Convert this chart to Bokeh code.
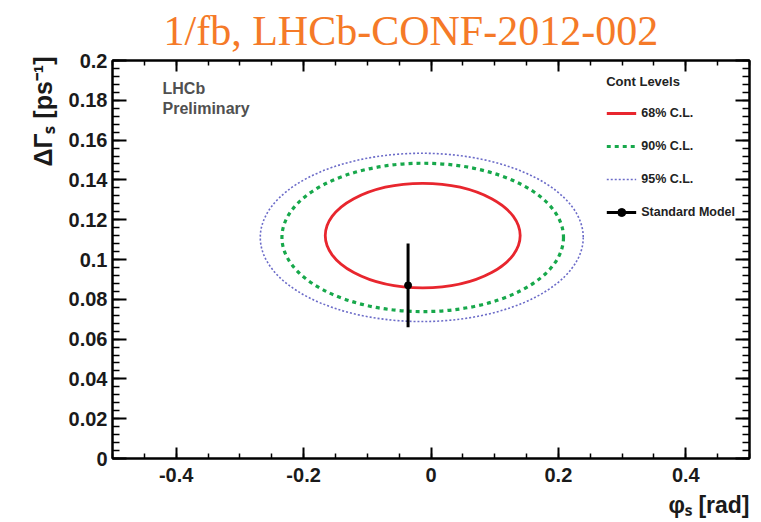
import numpy as np
from bokeh.plotting import figure
from bokeh.models import (LinearAxis, FixedTicker, Label, Legend, LegendItem,
                          Range1d, CustomJSTickFormatter, Title)
from bokeh.embed import file_html
from bokeh.resources import INLINE

# ---------------- data ----------------
title_text = "1/fb, LHCb-CONF-2012-002"
x_label_text = "φₛ [rad]"
y_label_text = "ΔΓₛ [ps⁻¹]"

x_ticks = [-0.4, -0.2, 0.0, 0.2, 0.4]
x_tick_labels = ["-0.4", "-0.2", "0", "0.2", "0.4"]
y_ticks = [0.0, 0.02, 0.04, 0.06, 0.08, 0.1, 0.12, 0.14, 0.16, 0.18, 0.2]
y_tick_labels = ["0", "0.02", "0.04", "0.06", "0.08", "0.1", "0.12", "0.14",
                 "0.16", "0.18", "0.2"]

contour_levels = ["68% C.L.", "90% C.L.", "95% C.L."]
contour_phi_center = [-0.013, -0.013, -0.0145]
contour_dg_center = [0.112, 0.1111, 0.1111]
contour_phi_width = [0.306, 0.442, 0.507]
contour_dg_height = [0.0525, 0.0746, 0.0846]

sm_label = "Standard Model"
sm_phi = [-0.036]
sm_dg = [0.087]
sm_dg_err = [0.021]

# ---------------- figure ----------------
W, H = 761, 522
p = figure(width=W, height=H, output_backend="svg", toolbar_location=None,
           x_range=Range1d(-0.5, 0.5), y_range=Range1d(0, 0.2),
           min_border_left=112, min_border_right=12,
           min_border_top=60, min_border_bottom=63)
p.xgrid.visible = False
p.ygrid.visible = False
p.outline_line_color = "black"
p.outline_line_width = 2
p.background_fill_color = "white"
p.border_fill_color = "white"

x_minor = [round(v, 3) for v in np.arange(-0.5, 0.5001, 0.05)]
y_minor = [round(v, 4) for v in np.arange(0.0, 0.2001, 0.004)]
xticker = FixedTicker(ticks=x_ticks, minor_ticks=x_minor)
yticker = FixedTicker(ticks=y_ticks, minor_ticks=y_minor)

tick_font = "Liberation Sans"


def style_axis(ax, major_len, minor_len):
    ax.major_tick_in = major_len
    ax.major_tick_out = 0
    ax.minor_tick_in = minor_len
    ax.minor_tick_out = 0
    ax.axis_line_width = 2
    ax.axis_line_color = "black"
    ax.major_tick_line_width = 2
    ax.minor_tick_line_width = 1.5
    ax.major_tick_line_color = "black"
    ax.minor_tick_line_color = "black"


xa = p.xaxis[0]
xa.ticker = xticker
xa.major_label_overrides = dict(zip(x_ticks, x_tick_labels))
xa.major_label_text_font = tick_font
xa.major_label_text_font_style = "bold"
xa.major_label_text_font_size = "20px"
xa.major_label_text_color = "#1a1a1a"
xa.major_label_standoff = 9
style_axis(xa, 11, 5)

ya = p.yaxis[0]
ya.ticker = yticker
ya.major_label_overrides = dict(zip(y_ticks, y_tick_labels))
ya.major_label_text_font = tick_font
ya.major_label_text_font_style = "bold"
ya.major_label_text_font_size = "20px"
ya.major_label_text_color = "#1a1a1a"
ya.major_label_standoff = 5
style_axis(ya, 14, 7)

blank = CustomJSTickFormatter(code="return ''")
top = LinearAxis(ticker=FixedTicker(ticks=x_ticks, minor_ticks=x_minor),
                 formatter=blank, major_label_text_font_size="0px",
                 major_label_standoff=0)
style_axis(top, 11, 5)
p.add_layout(top, "above")
right = LinearAxis(ticker=FixedTicker(ticks=y_ticks, minor_ticks=y_minor),
                   formatter=blank, major_label_text_font_size="0px",
                   major_label_standoff=0)
style_axis(right, 14, 7)
p.add_layout(right, "right")

# ---------------- contours ----------------
colors = ["#e8262e", "#17a84b", "#6b6bc8"]
widths = [2.8, 3.2, 1.6]
dashes = ["solid", "4 4", "2 2"]
legend_items = []
for i, lab in enumerate(contour_levels):
    p.ellipse(x=[contour_phi_center[i]], y=[contour_dg_center[i]],
              width=[contour_phi_width[i]], height=[contour_dg_height[i]],
              fill_alpha=0, line_color=colors[i], line_width=widths[i],
              line_dash=dashes[i])
    proxy = p.line(x=[np.nan], y=[np.nan], line_color=colors[i],
                   line_width=widths[i], line_dash=dashes[i])
    legend_items.append(LegendItem(label=lab, renderers=[proxy]))

sm_lo = [v - e for v, e in zip(sm_dg, sm_dg_err)]
sm_hi = [v + e for v, e in zip(sm_dg, sm_dg_err)]
seg = p.segment(x0=sm_phi, y0=sm_lo, x1=sm_phi, y1=sm_hi,
                line_color="black", line_width=3)
pt = p.scatter(x=sm_phi, y=sm_dg, size=7, marker="circle",
               fill_color="black", line_color="black")
legend_items.append(LegendItem(label=sm_label, renderers=[seg, pt]))

legend = Legend(items=legend_items, location="top_right", title="Cont Levels")
legend.title_text_font = tick_font
legend.title_text_font_style = "bold"
legend.title_text_font_size = "13px"
legend.title_text_color = "#222222"
legend.title_standoff = 14
legend.label_text_font = tick_font
legend.label_text_font_style = "bold"
legend.label_text_font_size = "12.5px"
legend.label_text_color = "#222222"
legend.border_line_alpha = 0
legend.background_fill_alpha = 0
legend.glyph_width = 30
legend.glyph_height = 20
legend.label_height = 20
legend.spacing = 13
legend.padding = 5
legend.margin = 9
legend.label_standoff = 5
p.add_layout(legend)

# ---------------- texts ----------------
p.title.text = title_text
p.title.align = "left"
p.title.offset = 51
p.title.vertical_align = "top"
p.title.text_font = "Liberation Serif"
p.title.text_font_style = "normal"
p.title.text_font_size = "42px"
p.title.text_color = "#f57a28"
p.title.standoff = 9

p.add_layout(Title(text=y_label_text, align="right", offset=-4, standoff=18,
                   text_font=tick_font, text_font_style="bold",
                   text_font_size="25px", text_color="#1a1a1a"), "left")
p.add_layout(Title(text=x_label_text, align="right", offset=0,
                   text_font=tick_font, text_font_style="bold",
                   text_font_size="23px", text_color="#1a1a1a"), "below")

FH = H - 60 - 63       # frame height
p.add_layout(Label(x=50, y=FH - 29, x_units="screen", y_units="screen",
                   text="LHCb", text_font=tick_font, text_font_style="bold",
                   text_font_size="16px", text_color="#505050",
                   text_align="left", text_baseline="middle"))
p.add_layout(Label(x=50, y=FH - 49, x_units="screen", y_units="screen",
                   text="Preliminary", text_font=tick_font,
                   text_font_style="bold",
                   text_font_size="16px", text_color="#505050",
                   text_align="left", text_baseline="middle"))

open("out.html", "w").write(file_html(p, INLINE))
